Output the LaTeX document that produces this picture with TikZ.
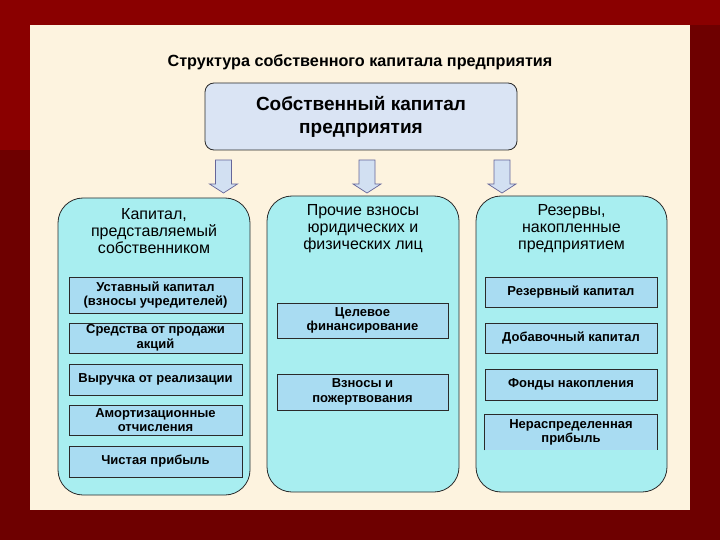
\documentclass[tikz,border=0pt]{standalone}
\usepackage{fontspec}
\setmainfont{Liberation Sans}
\definecolor{bgred}{HTML}{8A0000}
\definecolor{bgdark}{HTML}{6E0000}
\definecolor{cream}{HTML}{FDF3DF}
\definecolor{colfill}{HTML}{A8EEF0}
\definecolor{boxfill}{HTML}{A9DCF2}
\definecolor{topfill}{HTML}{DAE4F4}
\definecolor{arrfill}{HTML}{D2E0F2}
\definecolor{edge}{HTML}{2A2A2A}
\tikzset{
  topbox/.style={draw=edge, line width=0.8pt, fill=topfill, rounded corners=9pt,
    minimum width=312pt, minimum height=67pt, align=center,
    font=\fontsize{19}{23}\selectfont\bfseries},
  colbox/.style={draw=edge, line width=0.8pt, fill=colfill, rounded corners=25pt,
    minimum width=192pt, minimum height=296pt},
  colhead/.style={align=center, font=\fontsize{16}{17}\selectfont, inner sep=0pt},
  itembox/.style={draw=edge, line width=0.7pt, fill=boxfill, align=center,
    minimum width=173pt, inner sep=0pt,
    font=\fontsize{13}{14.5}\selectfont\bfseries},
  arrowstyle/.style={draw=gray!80!blue, line width=0.7pt, fill=arrfill},
  blockarrow/.pic={\draw[arrowstyle] (-8,0) -- (8,0) -- (8,24) -- (14,24) -- (0,33)
     -- (-14,24) -- (-8,24) -- cycle;}
}
\begin{document}
\begin{tikzpicture}[x=1pt,y=-1pt]
\useasboundingbox (0,0) rectangle (720,540);
\fill[bgdark] (0,0) rectangle (720,540);
\fill[bgred] (0,0) rectangle (720,25);
\fill[bgred] (0,0) rectangle (30,150);
\fill[cream] (30,25) rectangle (690,510);

\node[font=\fontsize{16.2}{18}\selectfont\bfseries] (title) at (360,62)
  {Структура собственного капитала предприятия};

\node[topbox] (top) at (361,116.5) {Собственный капитал\\предприятия};

\node[colbox, minimum height=297pt] (c1) at (154,346.5) {};
\node[colbox] (c2) at (363,344) {};
\node[colbox, minimum width=191pt] (c3) at (571.5,344) {};

\coordinate (a1) at (223.5,160);
\coordinate (a2) at (367,160);
\coordinate (a3) at (502,160);
\pic at (a1) {blockarrow};
\pic at (a2) {blockarrow};
\pic at (a3) {blockarrow};

\node[colhead] (h1) at (154,231) {Капитал,\\представляемый\\собственником};
\node[colhead] (h2) at (363,229) {Прочие взносы\\юридических и\\физических лиц};
\node[colhead] (h3) at (571.5,229) {Резервы,\\накопленные\\предприятием};

% left column
\node[itembox, minimum height=36pt] (l1) at (155.5,295) {Уставный капитал\\(взносы учредителей)};
\node[itembox, minimum height=30pt] (l2) at (155.5,338) {Средства от продажи\\акций};
\node[itembox, minimum height=31pt] (l3) at (155.5,379.5) {Выручка от реализации};
\node[itembox, minimum height=30pt] (l4) at (155.5,420) {Амортизационные\\отчисления};
\node[itembox, minimum height=31pt] (l5) at (155.5,461.5) {Чистая прибыль};

% middle column
\node[itembox, minimum width=171pt, minimum height=35pt] (m1) at (362.5,320.5) {Целевое\\финансирование};
\node[itembox, minimum width=171pt, minimum height=36pt] (m2) at (362.5,392) {Взносы и\\пожертвования};

% right column
\node[itembox, minimum width=172pt, minimum height=30pt] (r1) at (571,292) {Резервный капитал};
\node[itembox, minimum width=172pt, minimum height=30pt] (r2) at (571,338) {Добавочный капитал};
\node[itembox, minimum width=172pt, minimum height=31pt] (r3) at (571,384.5) {Фонды накопления};
\node[itembox, draw=none, minimum width=172pt, minimum height=35pt] (r4) at (571,432.5) {Нераспределенная\\прибыль};
\draw[edge, line width=0.7pt] (r4.south west) -- (r4.north west) -- (r4.north east) -- (r4.south east);
\end{tikzpicture}
\end{document}
